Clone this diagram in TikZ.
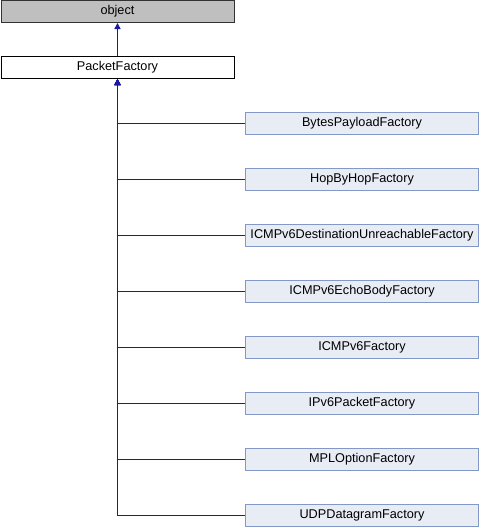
\documentclass[tikz,border=0pt]{standalone}
\usepackage{fontspec}
\setmainfont{Liberation Sans}
\usetikzlibrary{arrows.meta}
\definecolor{edgeblue}{HTML}{1A1AA0}
\definecolor{childfill}{HTML}{E8ECF5}
\definecolor{childdraw}{HTML}{8398C6}
\definecolor{objfill}{HTML}{BFBFBF}
\tikzset{
  box/.style={draw, line width=1pt, minimum width=233pt, minimum height=22pt, inner sep=0pt, font=\fontsize{12.7pt}{14pt}\selectfont, anchor=center},
  objbox/.style={box, fill=objfill, draw=black!80},
  pfbox/.style={box, fill=white, draw=black},
  childbox/.style={box, fill=childfill, draw=childdraw},
  inhedge/.style={color=edgeblue, line width=1.5pt, -{Triangle[width=6pt,length=6pt]}}
}
\begin{document}
\begin{tikzpicture}[x=1pt,y=-1pt]
\useasboundingbox (0,0) rectangle (480,528);
\node[objbox] (obj) at (117.5,11.5) {object};
\node[pfbox] (pf) at (117.5,67.5) {PacketFactory};
\node[childbox] (c1) at (362,123.5) {BytesPayloadFactory};
\node[childbox] (c2) at (362,179.5) {HopByHopFactory};
\node[childbox] (c3) at (362,235.5) {ICMPv6DestinationUnreachableFactory};
\node[childbox] (c4) at (362,291.5) {ICMPv6EchoBodyFactory};
\node[childbox] (c5) at (362,347.5) {ICMPv6Factory};
\node[childbox] (c6) at (362,403.5) {IPv6PacketFactory};
\node[childbox] (c7) at (362,459.5) {MPLOptionFactory};
\node[childbox] (c8) at (362,515.5) {UDPDatagramFactory};
\draw[inhedge] (pf.north) -- (obj.south);
\foreach \c in {c1,c2,c3,c4,c5,c6,c7,c8}{
  \draw[inhedge] (\c.west) -| (pf.south);
}
\end{tikzpicture}
\end{document}
